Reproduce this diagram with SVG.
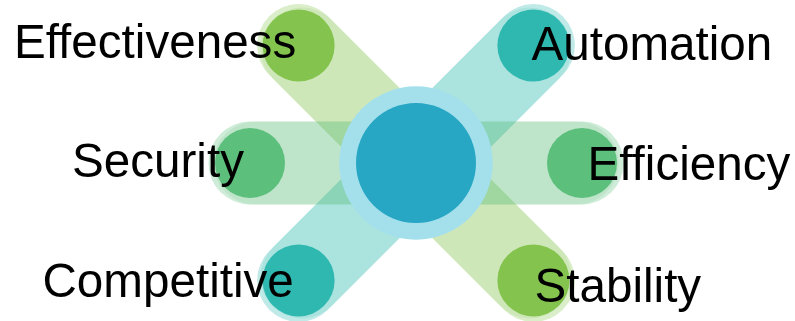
<svg xmlns="http://www.w3.org/2000/svg" width="795" height="321" viewBox="0 0 795 321">
<style>
.lbl{font-family:"Liberation Sans",Arial,sans-serif;font-size:47.6px;fill:#000}
.arm{opacity:0.4}
.halo{opacity:0.75}
.g1{fill:#84C44E;stroke:#84C44E}
.g2{fill:#2EB8B0;stroke:#2EB8B0}
.g3{fill:#5CBF7C;stroke:#5CBF7C}
.bar{stroke-width:83;stroke-linecap:round;fill:none}
</style>
<g id="connectors">
  <g class="arm g1">
    <circle class="halo" cx="298.6" cy="45.6" r="41.5" stroke="none"/>
    <circle class="halo" cx="533.4" cy="280.4" r="41.5" stroke="none"/>
    <line class="bar" x1="302.1" y1="49.1" x2="529.9" y2="276.9"/>
  </g>
  <g class="arm g2">
    <circle class="halo" cx="533.4" cy="45.6" r="41.5" stroke="none"/>
    <circle class="halo" cx="298.6" cy="280.4" r="41.5" stroke="none"/>
    <line class="bar" x1="529.9" y1="49.1" x2="302.1" y2="276.9"/>
  </g>
  <g class="arm g3">
    <circle class="halo" cx="250" cy="163" r="41.5" stroke="none"/>
    <circle class="halo" cx="582" cy="163" r="41.5" stroke="none"/>
    <line class="bar" x1="255" y1="163" x2="577" y2="163"/>
  </g>
</g>
<g id="center">
  <circle cx="416" cy="163" r="76.7" fill="#A4E0EC"/>
  <circle cx="416" cy="163" r="60" fill="#27A7C4"/>
</g>
<g id="effectiveness">
  <circle cx="298.6" cy="45.6" r="36" fill="#84C44E"/>
  <text class="lbl" x="14" y="58.3">Effectiveness</text>
</g>
<g id="automation">
  <circle cx="533.4" cy="45.6" r="36" fill="#2EB8B0"/>
  <text class="lbl" x="531.5" y="60">Automation</text>
</g>
<g id="security">
  <circle cx="250" cy="163" r="35" fill="#5CBF7C"/>
  <text class="lbl" x="72" y="177">Security</text>
</g>
<g id="efficiency">
  <circle cx="582" cy="163" r="35" fill="#5CBF7C"/>
  <text class="lbl" x="587.5" y="180">Efficiency</text>
</g>
<g id="competitive">
  <circle cx="298.6" cy="280.4" r="36" fill="#2EB8B0"/>
  <text class="lbl" x="42.5" y="297.3">Competitive</text>
</g>
<g id="stability">
  <circle cx="533.4" cy="280.4" r="36" fill="#84C44E"/>
  <text class="lbl" x="534.5" y="301.7">Stability</text>
</g>
</svg>
